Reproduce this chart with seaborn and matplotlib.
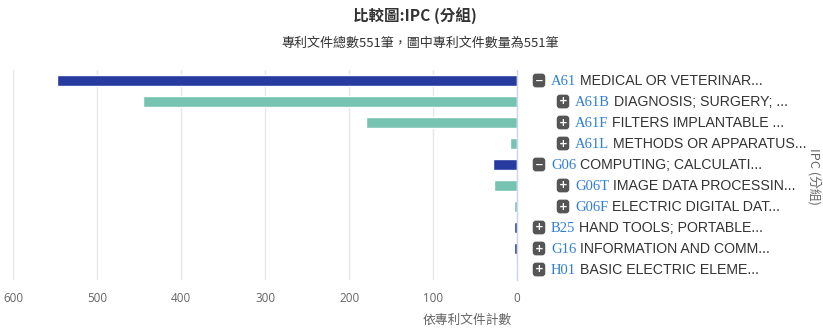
import matplotlib
matplotlib.use("Agg")
import matplotlib.pyplot as plt
import seaborn as sns
import pandas as pd

codes = ['A61', 'A61B', 'A61F', 'A61L', 'G06', 'G06T', 'G06F', 'B25', 'G16', 'H01']
descs = ['MEDICAL OR VETERINAR...', 'DIAGNOSIS; SURGERY; ...', 'FILTERS IMPLANTABLE ...',
         'METHODS OR APPARATUS...', 'COMPUTING; CALCULATI...', 'IMAGE DATA PROCESSIN...',
         'ELECTRIC DIGITAL DAT...', 'HAND TOOLS; PORTABLE...', 'INFORMATION AND COMM...',
         'BASIC ELECTRIC ELEME...']
counts = [548, 445, 180, 8, 29, 27, 4, 4, 4, 1]
levels = [0, 1, 1, 1, 0, 1, 1, 0, 0, 0]
expanded = [True, False, False, False, True, False, False, False, False, False]
xticks = [0, 100, 200, 300, 400, 500, 600]

title = '比較圖:IPC (分組)'
subtitle = '專利文件總數551筆，圖中專利文件數量為551筆'
xlabel = '依專利文件計數'
ylabel = 'IPC (分組)'

sns.set_theme(style="white")
plt.rcParams['font.family'] = ['Noto Sans CJK TC', 'DejaVu Sans']

W, H = 823, 332
fig = plt.figure(figsize=(W / 100, H / 100), dpi=100)
ax = fig.add_axes([13 / W, 1 - 280 / H, (517 - 13) / W, (280 - 70) / H])

df = pd.DataFrame({'code': codes, 'count': counts, 'level': levels})
palette = {0: '#263AA0', 1: '#76C3B1'}
sns.barplot(data=df, y='code', x='count', hue='level', palette=palette, orient='h',
            dodge=False, width=0.48, legend=False, ax=ax, saturation=1)

ax.set_xlim(600, 0)
ax.set_ylim(len(codes) - 0.5, -0.5)
ax.set_xticks(xticks)
ax.set_xticklabels([str(t) for t in xticks], color='#666666', fontsize=8.4,
                   family=['Open Sans', 'DejaVu Sans'])
ax.tick_params(axis='x', length=0, pad=9)
ax.set_yticks([])
ax.set_xlabel('')
ax.set_ylabel('')
ax.grid(axis='x', color='#e6e6e6', linewidth=1)
ax.set_axisbelow(True)
for s in ['top', 'left', 'bottom']:
    ax.spines[s].set_visible(False)
ax.spines['right'].set_color('#ccd6eb')
ax.spines['right'].set_linewidth(1)

fig.text(415 / W, 1 - 16 / H, title, ha='center', va='center', fontsize=11.2,
         fontweight='bold', color='#333333')
fig.text(420 / W, 1 - 43 / H, subtitle, ha='center', va='center', fontsize=9.4,
         color='#333333')
fig.text(467 / W, 1 - 320 / H, xlabel, ha='center', va='center', fontsize=9.2,
         color='#666666')
fig.text(814 / W, 1 - 176 / H, ylabel, ha='center', va='center', fontsize=9.2,
         color='#666666', rotation=270)

fig.canvas.draw()
renderer = fig.canvas.get_renderer()
trans = ax.transData
for i, (c, d, lv, ex) in enumerate(zip(codes, descs, levels, expanded)):
    _, ypix = trans.transform((0, i))
    icon_x = 539 if lv == 0 else 563
    code_x = icon_x + 12
    fig.text(icon_x / W, ypix / H, '−' if ex else '+', ha='center', va='center',
             fontsize=7.5, fontweight='bold', color='white', family='DejaVu Sans',
             bbox=dict(boxstyle='round,pad=0.18,rounding_size=0.3', fc='#555555',
                       ec='none'))
    t = fig.text(code_x / W, (ypix - 4.5) / H, c, ha='left', va='baseline',
                 fontsize=10.5, color='#2f7ed8', family='Liberation Serif')
    bb = t.get_window_extent(renderer)
    fig.text((bb.x1 + 4) / W, (ypix - 4.5) / H, d, ha='left', va='baseline',
             fontsize=10.2, color='#333333', family='Liberation Sans')

fig.savefig('out.png', dpi=100)
